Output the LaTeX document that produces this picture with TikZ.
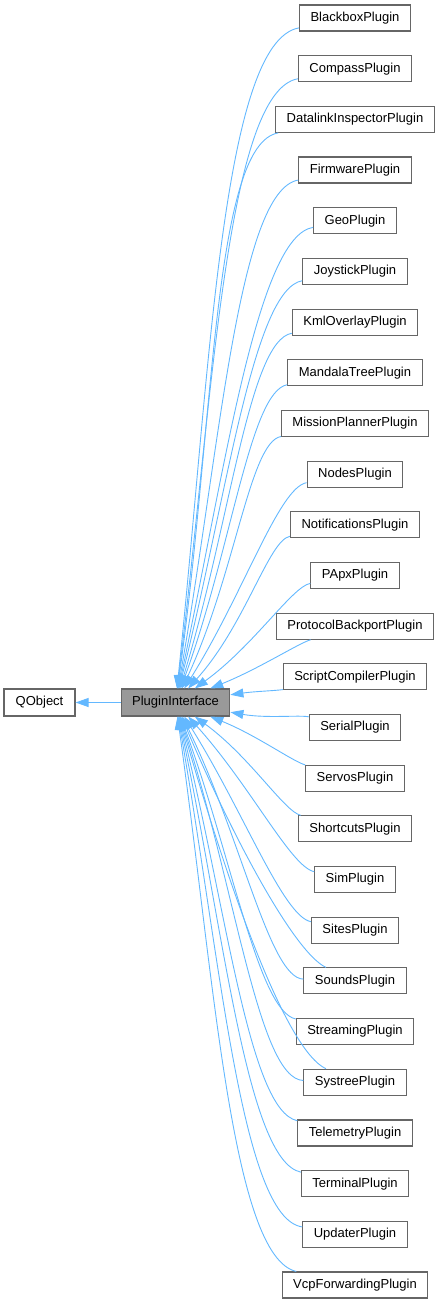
\documentclass[tikz,border=0pt]{standalone}
\usepackage{fontspec}
\setmainfont{Liberation Sans}
\usepackage{xcolor}
\usepackage{tikz}
\usetikzlibrary{arrows.meta}

\definecolor{edgeblue}{HTML}{63B8FF}
\definecolor{boxgray}{HTML}{666666}
\definecolor{basegray}{HTML}{999999}

\begin{document}
\begin{tikzpicture}[node distance=50.68pt,
  plugin/.style={rectangle, draw=boxgray, line width=1.1pt, fill=white, minimum height=26pt, inner xsep=11pt, inner ysep=0pt, font=\fontsize{13}{15}\selectfont},
  edge/.style={draw=edgeblue, line width=0.9pt, -{Triangle[length=13pt, width=9pt]}, out looseness=0.3, in looseness=1.2}]
\useasboundingbox (0pt,0pt) rectangle (440pt,-1304pt);

% derived classes, one row each
\node (blackbox) [plugin] at (355pt,-18pt) {BlackboxPlugin};
\node (compass) [plugin, below of=blackbox] {CompassPlugin};
\node (datalink) [plugin, below of=compass] {DatalinkInspectorPlugin};
\node (firmware) [plugin, below of=datalink] {FirmwarePlugin};
\node (geo) [plugin, below of=firmware] {GeoPlugin};
\node (joystick) [plugin, below of=geo] {JoystickPlugin};
\node (kmloverlay) [plugin, below of=joystick] {KmlOverlayPlugin};
\node (mandalatree) [plugin, below of=kmloverlay] {MandalaTreePlugin};
\node (missionplanner) [plugin, below of=mandalatree] {MissionPlannerPlugin};
\node (nodes) [plugin, below of=missionplanner] {NodesPlugin};
\node (notifications) [plugin, below of=nodes] {NotificationsPlugin};
\node (papx) [plugin, below of=notifications] {PApxPlugin};
\node (protocolbackport) [plugin, below of=papx] {ProtocolBackportPlugin};
\node (scriptcompiler) [plugin, below of=protocolbackport] {ScriptCompilerPlugin};
\node (serial) [plugin, below of=scriptcompiler] {SerialPlugin};
\node (servos) [plugin, below of=serial] {ServosPlugin};
\node (shortcuts) [plugin, below of=servos] {ShortcutsPlugin};
\node (sim) [plugin, below of=shortcuts] {SimPlugin};
\node (sites) [plugin, below of=sim] {SitesPlugin};
\node (sounds) [plugin, below of=sites] {SoundsPlugin};
\node (streaming) [plugin, below of=sounds] {StreamingPlugin};
\node (systree) [plugin, below of=streaming] {SystreePlugin};
\node (telemetry) [plugin, below of=systree] {TelemetryPlugin};
\node (terminal) [plugin, below of=telemetry] {TerminalPlugin};
\node (updater) [plugin, below of=terminal] {UpdaterPlugin};
\node (vcpforwarding) [plugin, below of=updater] {VcpForwardingPlugin};

% base classes
\node (pi) [plugin, fill=basegray, minimum width=107pt, minimum height=27pt] at (175.5pt,-702.5pt) {PluginInterface};
\node (qobject) [plugin, minimum width=71pt, minimum height=27pt] at (39.5pt,-702.5pt) {QObject};

\foreach \n/\o/\i in {blackbox/190/84, compass/190/83, datalink/190/82, firmware/190/80,
  geo/189/78, joystick/190/76, kmloverlay/190/73, mandalatree/190/70, missionplanner/190/65,
  nodes/190/58, notifications/190/48, papx/190/36, protocolbackport/197/22,
  scriptcompiler/190/8, serial/167/-10, servos/165/-22, shortcuts/166/-36, sim/169/-48,
  sites/169/-58, sounds/178/-64, sounds/155/-67, streaming/168/-70, systree/178/-72,
  systree/155/-74, telemetry/168/-76, terminal/168/-78, updater/172/-80, vcpforwarding/167/-82}
  \draw[edge] (\n) to[out=\o, in=\i] (pi);

\draw[edge] (pi) -- (qobject);
\end{tikzpicture}
\end{document}
